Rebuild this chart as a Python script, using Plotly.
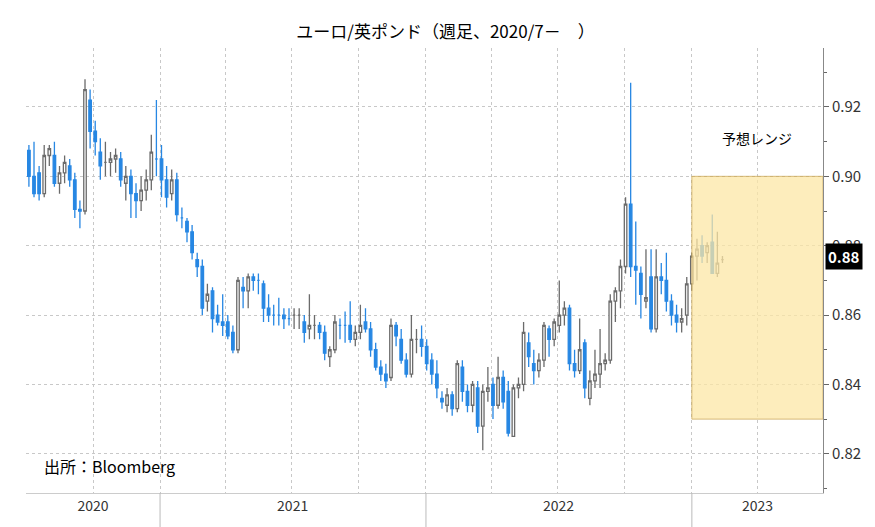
import pandas as pd
import plotly.graph_objects as go

# weekly EUR/GBP candles (Jul 2020 - Feb 2023)
weeks = pd.date_range('2020-07-05', periods=137, freq='7D')

opens = [.9075, .900, .901, .895, .906, .906, .898, .901, .903, .899, .8905, .890, .922, .913, .907, .904, .904, .905, .905, .898,
         .900, .895, .893, .896, .899, .905, .905, .899, .895, .899, .888, .887, .884, .876, .874, .864, .867, .860, .858, .858,
         .855, .850, .868, .867, .871, .870, .869, .862, .860, .860, .860, .859, .860, .860, .858, .856, .857, .857, .855, .848,
         .850, .857, .857, .857, .853, .855, .858, .856, .850, .845, .843, .842, .857, .853, .847, .843, .853, .853, .851, .847,
         .843, .836, .834, .837, .833, .845, .838, .834, .839, .828, .838, .840, .834, .842, .838, .825, .839, .840, .852, .846,
         .844, .847, .856, .853, .857, .860, .862, .846, .844, .852, .836, .841, .843, .846, .847, .864, .867, .874, .892, .874,
         .872, .864, .871, .856, .871, .870, .864, .860, .858, .860, .869, .877, .880, .878, .881, .872, .876]
highs = [.909, .910, .903, .909, .909, .910, .903, .906, .905, .901, .893, .928, .925, .916, .911, .910, .907, .908, .907, .903,
         .902, .898, .900, .902, .912, .922, .909, .903, .902, .901, .891, .888, .886, .878, .876, .869, .868, .863, .866, .860,
         .857, .871, .871, .872, .872, .872, .870, .866, .863, .865, .862, .862, .862, .862, .860, .866, .860, .858, .857, .851,
         .860, .859, .861, .864, .857, .863, .862, .858, .852, .847, .846, .859, .858, .856, .849, .860, .856, .857, .853, .849,
         .847, .838, .839, .838, .847, .847, .840, .841, .841, .840, .845, .842, .848, .844, .841, .840, .842, .858, .855, .850,
         .849, .858, .857, .859, .870, .864, .863, .850, .859, .853, .844, .850, .856, .849, .866, .868, .876, .894, .927, .887,
         .874, .879, .879, .879, .875, .878, .866, .863, .862, .871, .878, .882, .883, .881, .889, .884, .877]
lows = [.897, .894, .893, .894, .903, .897, .895, .898, .897, .888, .885, .889, .908, .906, .899, .900, .900, .901, .897, .893,
        .888, .888, .890, .893, .896, .900, .894, .891, .893, .887, .885, .881, .876, .871, .860, .861, .855, .857, .854, .853,
        .849, .849, .862, .862, .867, .866, .858, .858, .857, .857, .856, .857, .856, .856, .852, .853, .853, .853, .847, .845,
        .849, .853, .852, .852, .851, .853, .855, .848, .844, .841, .839, .841, .851, .846, .842, .842, .849, .848, .844, .840,
        .836, .833, .832, .831, .832, .835, .832, .832, .826, .821, .835, .830, .833, .833, .825, .825, .836, .838, .845, .840,
        .842, .845, .848, .851, .855, .857, .844, .842, .843, .836, .834, .839, .839, .844, .846, .858, .862, .872, .871, .863,
        .859, .862, .855, .855, .866, .861, .857, .855, .855, .857, .867, .870, .875, .875, .872, .871, .875]
closes = [.900, .895, .895, .906, .908, .898, .901, .904, .899, .8905, .890, .925, .913, .910, .903, .904, .905, .906, .899, .900,
          .895, .893, .896, .899, .907, .905, .899, .894, .899, .889, .888, .884, .878, .874, .862, .866, .859, .858, .857, .854,
          .850, .870, .867, .871, .870, .870, .862, .860, .860, .860, .859, .859, .860, .860, .855, .857, .857, .855, .849, .850,
          .858, .857, .857, .853, .855, .857, .856, .850, .845, .843, .841, .857, .854, .847, .843, .853, .853, .851, .846, .843,
          .839, .835, .837, .833, .846, .838, .834, .840, .828, .838, .839, .834, .842, .835, .826, .839, .840, .855, .848, .844,
          .847, .857, .853, .858, .860, .862, .846, .844, .850, .839, .841, .843, .846, .847, .864, .867, .874, .892, .874, .873,
          .866, .865, .856, .871, .870, .864, .860, .858, .859, .869, .877, .879, .877, .880, .872, .875, .876]

y_ticks = [0.82, 0.84, 0.86, 0.88, 0.90, 0.92]
year_labels = ['2020', '2021', '2022', '2023']
year_mids = ['2020-10-01', '2021-07-02', '2022-07-02', '2023-04-01']
year_edges = ['2021-01-01', '2022-01-01', '2023-01-01']
range_low, range_high = 0.83, 0.90
last_price = 0.877

FONT = 'Noto Sans CJK JP'

fig = go.Figure()
fig.add_trace(go.Candlestick(
    x=weeks, open=opens, high=highs, low=lows, close=closes,
    increasing=dict(line=dict(color='#6b6b6b', width=1.3), fillcolor='white'),
    decreasing=dict(line=dict(color='#2787e3', width=1.3), fillcolor='#2787e3'),
    whiskerwidth=0, showlegend=False,
))

# forecast range box
fig.add_shape(type='rect', xref='x', yref='y', x0='2023-01-01', x1='2023-06-30',
              y0=range_low, y1=range_high, fillcolor='#fde7a6', opacity=0.75,
              line=dict(color='#c9a349', width=1), layer='above')

# year separators under the axis
for d in year_edges:
    fig.add_shape(type='line', xref='x', yref='paper', x0=d, x1=d, y0=-0.08, y1=0,
                  line=dict(color='#bbbbbb', width=1))

fig.add_annotation(x=1.0, y=last_price, xref='paper', yref='y', text='<b>0.88</b>',
                   showarrow=False, xanchor='left', xshift=2, bgcolor='black',
                   borderpad=2, font=dict(color='white', size=15, family=FONT))
fig.add_annotation(x='2023-03-31', y=0.911, text='予想レンジ', showarrow=False,
                   font=dict(size=14, color='black', family=FONT))
fig.add_annotation(x=0.02, y=0.03, xref='paper', yref='paper', text='出所：Bloomberg',
                   showarrow=False, xanchor='left', yanchor='bottom',
                   font=dict(size=16, color='black', family=FONT))

fig.update_layout(
    width=875, height=527,
    margin=dict(l=18, r=60, t=40, b=42),
    paper_bgcolor='white', plot_bgcolor='white',
    title=dict(text='ユーロ/英ポンド（週足、2020/7－　）', x=0.5, y=0.965,
               font=dict(size=17, color='black', family=FONT)),
    font=dict(family=FONT, color='#333333'),
    xaxis=dict(
        range=['2020-07-01', '2023-06-30'], rangeslider=dict(visible=False),
        tickvals=year_mids, ticktext=year_labels, ticks='', showgrid=False,
        tickfont=dict(size=14, color='#333333'),
        showline=True, linecolor='#cccccc',
        minor=dict(dtick='M3', tick0='2020-07-01', showgrid=True,
                   gridcolor='#c8c8c8', griddash='dot', gridwidth=1),
    ),
    yaxis=dict(
        side='right', range=[0.8087, 0.937], tickvals=y_ticks,
        tickformat='.2f', ticks='outside', ticklen=5, tickcolor='#666666',
        showgrid=True, gridcolor='#c8c8c8', griddash='dot',
        showline=True, linecolor='#888888',
        tickfont=dict(size=15, color='#333333'),
        minor=dict(dtick=0.01, tick0=0.81, ticks='outside', ticklen=3, tickcolor='#666666', showgrid=False),
    ),
)

fig.write_html('out.html')
